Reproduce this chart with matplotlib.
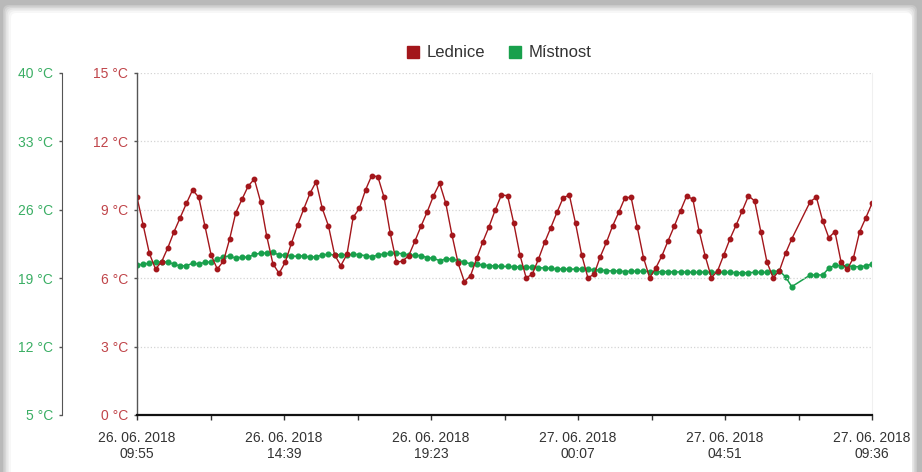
import numpy as np
import pandas as pd
import matplotlib.pyplot as plt
from matplotlib.lines import Line2D
from matplotlib.patches import FancyBboxPatch

plt.rcParams['font.family'] = ['Liberation Sans', 'DejaVu Sans']

nan = np.nan

# sampling period of the logger
start = pd.Timestamp("2018-06-26 09:55")
end = pd.Timestamp("2018-06-27 09:36")
n_samples = 120

# fridge temperature (left inner axis, °C)
lednice = [9.55, 8.33, 7.09, 6.40, 6.73, 7.34, 8.04, 8.66, 9.28, 9.87,
           9.55, 8.29, 7.02, 6.40, 6.75, 7.72, 8.88, 9.46, 10.04, 10.35,
           9.36, 7.85, 6.64, 6.21, 6.70, 7.53, 8.33, 9.04, 9.72, 10.23,
           9.06, 8.29, 7.02, 6.55, 7.05, 8.67, 9.06, 9.87, 10.50, 10.45,
           9.55, 7.97, 6.70, 6.75, 6.99, 7.63, 8.29, 8.92, 9.61, 10.16,
           9.28, 7.89, 6.65, 5.85, 6.11, 6.87, 7.60, 8.26, 8.99, 9.65,
           9.62, 8.41, 7.02, 6.02, 6.17, 6.84, 7.57, 8.22, 8.89, 9.53,
           9.65, 8.41, 7.02, 6.02, 6.17, 6.94, 7.57, 8.29, 8.89, 9.53,
           9.55, 8.23, 6.90, 6.02, 6.45, 6.99, 7.65, 8.29, 8.96, 9.61,
           9.46, 8.08, 6.97, 6.02, 6.32, 7.02, 7.72, 8.33, 8.96, 9.61,
           9.39, 8.04, 6.70, 6.02, 6.32, 7.09, 7.72, nan, nan, 9.36,
           9.55, 8.53, 7.78, 8.04, 6.70, 6.39, 6.90, 8.04, 8.65, 9.28]

# room temperature (outer axis, °C)
mistnost = [20.35, 20.42, 20.53, 20.63, 20.66, 20.66, 20.42, 20.25, 20.28, 20.53,
            20.45, 20.63, 20.66, 20.93, 21.20, 21.27, 21.04, 21.17, 21.14, 21.45,
            21.55, 21.58, 21.65, 21.37, 21.37, 21.27, 21.24, 21.30, 21.14, 21.20,
            21.37, 21.45, 21.37, 21.41, 21.37, 21.45, 21.41, 21.30, 21.20, 21.37,
            21.48, 21.55, 21.55, 21.51, 21.37, 21.34, 21.30, 21.10, 21.04, 20.79,
            20.97, 20.97, 20.79, 20.63, 20.48, 20.42, 20.35, 20.28, 20.25, 20.20,
            20.20, 20.17, 20.15, 20.12, 20.10, 20.07, 20.04, 20.01, 19.94, 19.94,
            19.91, 19.94, 19.94, 19.91, 19.84, 19.84, 19.77, 19.74, 19.74, 19.67,
            19.72, 19.72, 19.72, 19.67, 19.67, 19.67, 19.67, 19.64, 19.64, 19.64,
            19.60, 19.60, 19.64, 19.60, 19.60, 19.60, 19.60, 19.56, 19.56, 19.56,
            19.60, 19.60, 19.60, 19.67, 19.74, 19.15, 18.13, nan, nan, 19.33,
            19.33, 19.33, 20.01, 20.35, 20.28, 20.28, 20.18, 20.18, 20.25, 20.45]

red_ticks = [0, 3, 6, 9, 12, 15]
red_tick_labels = ["0 °C", "3 °C", "6 °C", "9 °C", "12 °C", "15 °C"]
green_ticks = [5, 12, 19, 26, 33, 40]
green_tick_labels = ["5 °C", "12 °C", "19 °C", "26 °C", "33 °C", "40 °C"]
x_tick_labels = ["26. 06. 2018\n09:55", "26. 06. 2018\n14:39", "26. 06. 2018\n19:23",
                 "27. 06. 2018\n00:07", "27. 06. 2018\n04:51", "27. 06. 2018\n09:36"]

times = pd.date_range(start, end, periods=n_samples)
red_s = pd.Series(lednice, index=times).dropna()
green_s = pd.Series(mistnost, index=times).dropna()

RED = '#a3161b'
GREEN = '#18a04c'
RED_TXT = '#c0454a'
GREEN_TXT = '#3aae64'

fig = plt.figure(figsize=(9.22, 4.72), dpi=100)

# screenshot card with shadow
bg = fig.add_axes([0, 0, 1, 1], zorder=-5)
bg.set_xlim(0, 922)
bg.set_ylim(472, 0)
bg.axis('off')
bg.add_patch(plt.Rectangle((0, 0), 922, 472, fc='#b9b9b9', ec='none'))
for k, c in enumerate(['#c8c8c8', '#d6d6d6', '#e3e3e3', '#eeeeee', '#f7f7f7']):
    bg.add_patch(FancyBboxPatch((3 + k * 1.5, 5 + k * 1.5), 914 - k * 3, 480,
                                boxstyle='round,pad=0,rounding_size=6', fc=c, ec='none'))
bg.add_patch(FancyBboxPatch((11, 13), 901, 480,
                            boxstyle='round,pad=0,rounding_size=5', fc='white', ec='none'))

ax = fig.add_axes([137 / 922, 57 / 472, 735 / 922, 342 / 472])
ax2 = ax.twinx()
ax.set_zorder(ax2.get_zorder() + 1)
ax.patch.set_visible(False)

ax2.plot(green_s.index, green_s.values, color=GREEN, lw=1.1, marker='o', ms=3.4,
         mec=GREEN, mfc=GREEN)
ax.plot(red_s.index, red_s.values, color=RED, lw=1.0, marker='o', ms=3.2,
        mec=RED, mfc=RED)

ax.set_xlim(start, end)
ax.set_ylim(0, 15)
ax2.set_ylim(5, 40)

ax.set_yticks(red_ticks)
ax.set_yticklabels(red_tick_labels)
ax2.set_yticks(green_ticks)
ax2.set_yticklabels(green_tick_labels)

ax.set_xticks(pd.date_range(start, end, periods=6))
ax.set_xticklabels(x_tick_labels, linespacing=1.2)
ax.set_xticks(pd.date_range(start, end, periods=11), minor=True)

ax.grid(axis='y', linestyle=':', color='#d4d4d4', lw=0.9)

for sp in ['top']:
    ax.spines[sp].set_visible(False)
ax.spines['right'].set_color('#f0f0f0')
ax.spines['left'].set_color('#555555')
ax.spines['left'].set_linewidth(1.0)
ax.spines['bottom'].set_color('#111111')
ax.spines['bottom'].set_linewidth(1.6)

for sp in ['top', 'right', 'bottom']:
    ax2.spines[sp].set_visible(False)
ax2.spines['left'].set_visible(True)
ax2.spines['left'].set_position(('axes', -75 / 735))
ax2.spines['left'].set_color('#555555')
ax2.yaxis.set_ticks_position('left')
ax2.yaxis.set_label_position('left')

ax.tick_params(axis='y', length=2.5, width=1, color='#555555', labelcolor=RED_TXT,
               labelsize=10, pad=4)
ax2.tick_params(axis='y', length=2.5, width=1, color='#555555', labelcolor=GREEN_TXT,
                labelsize=10, pad=4)
ax.tick_params(axis='x', which='both', length=3.5, width=1, color='#333333',
               labelcolor='#333333', labelsize=10, pad=8)

handles = [Line2D([], [], ls='none', marker='s', ms=9, color=RED, label='Lednice'),
           Line2D([], [], ls='none', marker='s', ms=9, color=GREEN, label='Místnost')]
fig.legend(handles=handles, loc='center', bbox_to_anchor=(0.541, 0.888), ncol=2,
           frameon=False, fontsize=12, handlelength=0.8, handletextpad=0.4,
           columnspacing=1.4, labelcolor='#333333')

fig.savefig('out.png', dpi=100)
